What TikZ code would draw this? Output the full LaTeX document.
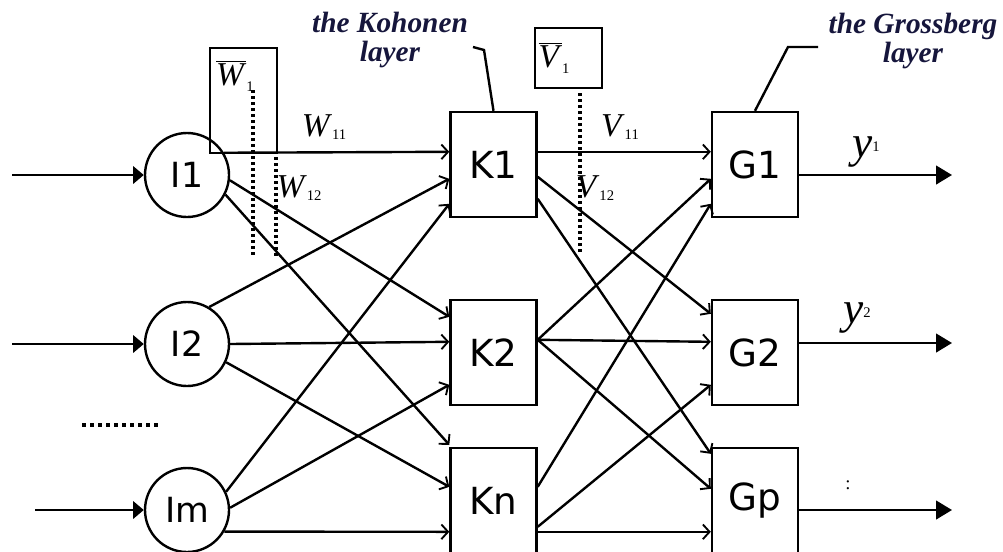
\documentclass[tikz,border=0pt]{standalone}
\usepackage{fontspec}
\setmainfont{Liberation Serif}
\newfontfamily\nodefont{DejaVu Sans}
\usetikzlibrary{arrows.meta,calc}
\definecolor{navy}{RGB}{22,22,60}
\newcommand{\wl}[2]{\textit{#1}\raisebox{-0.25ex}{\fontsize{11}{11}\selectfont #2}}
\begin{document}
\begin{tikzpicture}[x=0.75pt,y=-0.75pt,
  line width=1.8pt,
  inode/.style={circle,draw,minimum size=63pt,inner sep=0pt,font=\nodefont\fontsize{26}{28}\selectfont},
  lbox/.style={rectangle,draw,minimum width=64.5pt,minimum height=78.75pt,inner sep=0pt,font=\nodefont\fontsize{28}{30}\selectfont},
  vecbox/.style={rectangle,draw,inner sep=0pt},
  conn/.style={-{Straight Barb[length=5pt,width=11pt,line width=1.4pt]}},
  inarr/.style={-{Triangle[length=8pt,width=13pt]}},
  outarr/.style={-{Triangle[length=12pt,width=14pt]}},
  dotl/.style={line width=3pt,dash pattern=on 2.5pt off 2pt},
  layerlbl/.style={font=\bfseries\itshape\fontsize{22}{22}\selectfont,align=center,text=navy,inner sep=0pt},
  wlbl/.style={font=\fontsize{25}{27}\selectfont,inner sep=0pt},
  ylbl/.style={font=\fontsize{34}{36}\selectfont,inner sep=0pt},
]
\useasboundingbox (0,0) rectangle (1003,551);

% input neurons
\node[inode] (I1) at (187,175) {I1};
\node[inode] (I2) at (187,344) {I2};
\node[inode] (Im) at (187,510) {Im};

% Kohonen layer
\node[lbox] (K1) at (493.5,164.5) {K1};
\node[lbox] (K2) at (493.5,352.5) {K2};
\node[lbox] (Kn) at (493.5,500.5) {Kn};

% Grossberg layer
\node[lbox] (G1) at (755,164.5) {G1};
\node[lbox] (G2) at (755,352.5) {G2};
\node[lbox] (Gp) at (755,500.5) {Gp};

% weight vector boxes
\node[vecbox,minimum width=50.25pt,minimum height=78.75pt] (Wb) at (243.5,100.5) {};
\node[wlbl] (Wt) at (235,76) {$\overline{\mbox{\textit{W}}}$\raisebox{-0.4ex}{\fontsize{11}{11}\selectfont 1}};
\node[vecbox,minimum width=50.25pt,minimum height=45pt] (Vb) at (568.5,58) {};
\node[wlbl] (Vt) at (554,58) {$\overline{\mbox{\textit{V}}}$\raisebox{-0.4ex}{\fontsize{11}{11}\selectfont 1}};

% dotted lines
\coordinate (d1t) at (253,90);
\coordinate (d1b) at (253,257);
\coordinate (d2t) at (276,157);
\coordinate (d2b) at (276,257);
\coordinate (d3t) at (580,93);
\coordinate (d3b) at (580,252);
\draw[dotl] (d1t) -- (d1b);
\draw[dotl] (d2t) -- (d2b);
\draw[dotl] (d3t) -- (d3b);

% inputs
\coordinate (in1) at (12,175);
\coordinate (in2) at (12,344);
\coordinate (inm) at (35,510);
\draw[inarr] (in1) -- (I1.west);
\draw[inarr] (in2) -- (I2.west);
\draw[inarr] (inm) -- (Im.west);

% dots between I2 and Im
\coordinate (dl) at (82,425);
\coordinate (dr) at (160,425);
\draw[line width=2.5pt,dash pattern=on 3pt off 3pt] (dl) -- (dr);

% input -> Kohonen
\draw[conn] (I1.31) -- ($(K1.north west)+(0,41)$);
\draw[conn] (I1.-7) -- ($(K2.north west)+(0,18)$);
\draw[conn] (I1.-27) -- ($(Kn.north west)+(0,-2)$);
\draw[conn] (I2.59) -- ($(K1.north west)+(0,68)$);
\draw[conn] (I2.east) -- ($(K2.north west)+(0,43)$);
\draw[conn] (I2.-25) -- ($(Kn.north west)+(0,40)$);
\draw[conn] (Im.25) -- ($(K1.north west)+(0,93)$);
\draw[conn] (Im.3) -- ($(K2.north west)+(0,86)$);
\draw[conn] (Im.-30) -- ($(Kn.north west)+(0,85)$);

% Kohonen -> Grossberg
\draw[conn] ($(K1.north east)+(0,41)$) -- ($(G1.north west)+(0,41)$);
\draw[conn] ($(K1.north east)+(0,66)$) -- ($(G2.north west)+(0,15)$);
\draw[conn] ($(K1.north east)+(0,88)$) -- ($(Gp.north west)+(0,7)$);
\draw[conn] ($(K2.north east)+(0,41)$) -- ($(G1.north west)+(0,68)$);
\draw[conn] ($(K2.north east)+(0,41)$) -- ($(G2.north west)+(0,43)$);
\draw[conn] ($(K2.north east)+(0,41)$) -- ($(Gp.north west)+(0,42)$);
\draw[conn] ($(Kn.north east)+(0,40)$) -- ($(G1.north west)+(0,93)$);
\draw[conn] ($(Kn.north east)+(0,80)$) -- ($(G2.north west)+(0,86)$);
\draw[conn] ($(Kn.north east)+(0,85)$) -- ($(Gp.north west)+(0,85)$);

% outputs
\coordinate (o1) at (952,175);
\coordinate (o2) at (952,343);
\coordinate (op) at (952,510);
\draw[outarr] (G1.east |- o1) -- (o1);
\draw[outarr] (G2.east |- o2) -- (o2);
\draw[outarr] (Gp.east |- op) -- (op);

% weight labels
\node[wlbl] (w11) at (324,127) {\wl{W}{11}};
\node[wlbl] (w12) at (299,188) {\wl{W}{12}};
\node[wlbl] (v11) at (620,127) {\wl{V}{11}};
\node[wlbl] (v12) at (595,188) {\wl{V}{12}};

% output labels
\node[ylbl] (y1) at (866,152) {\textit{y}\raisebox{0.3ex}{\fontsize{11}{11}\selectfont 1}};
\node[ylbl] (y2) at (857,318) {\textit{y}\raisebox{0.3ex}{\fontsize{11}{11}\selectfont 2}};
\node[inner sep=0pt,font=\fontsize{14}{14}\selectfont] (yp) at (848,485) {:};

% layer labels and leaders
\node[layerlbl] (KL) at (390,40) {the Kohonen\\layer};
\node[layerlbl] (GL) at (913,41) {the Grossberg\\layer};
\coordinate (kl) at (473,47);
\coordinate (kb) at (484,50);
\draw (kl) -- (kb) -- (K1.north);
\coordinate (gl) at (818,47);
\coordinate (gb) at (788,47);
\draw (gl) -- (gb) -- (G1.north);
\end{tikzpicture}
\end{document}
